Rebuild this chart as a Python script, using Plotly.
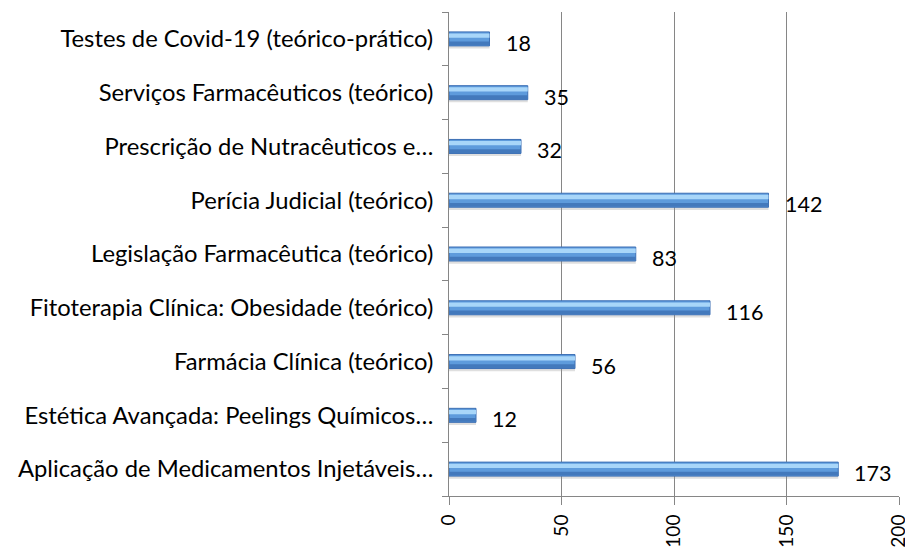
import plotly.graph_objects as go

categories = [
    "Aplicação de Medicamentos Injetáveis…",
    "Estética Avançada: Peelings Químicos…",
    "Farmácia Clínica (teórico)",
    "Fitoterapia Clínica: Obesidade (teórico)",
    "Legislação Farmacêutica (teórico)",
    "Perícia Judicial (teórico)",
    "Prescrição de Nutracêuticos e…",
    "Serviços Farmacêuticos (teórico)",
    "Testes de Covid-19 (teórico-prático)",
]
values = [173, 12, 56, 116, 83, 142, 32, 35, 18]
x_ticks = [0, 50, 100, 150, 200]

FONT = "Lato"

fig = go.Figure()
# soft shadow below the bar
fig.add_trace(go.Bar(y=categories, x=values, orientation="h", width=0.10, offset=-0.18,
                     marker=dict(color="rgba(150,150,150,0.30)", line=dict(width=0)),
                     hoverinfo="skip", showlegend=False))
# main cylinder body
fig.add_trace(go.Bar(y=categories, x=values, orientation="h", width=0.26, offset=-0.13,
                     marker=dict(color="#5E9BDC", line=dict(color="#3C6FB4", width=1)),
                     showlegend=False))
# darker lower band
fig.add_trace(go.Bar(y=categories, x=values, orientation="h", width=0.07, offset=-0.12,
                     marker=dict(color="#4379BC", line=dict(width=0)),
                     hoverinfo="skip", showlegend=False))
# highlight band
fig.add_trace(go.Bar(y=categories, x=values, orientation="h", width=0.08, offset=0.02,
                     marker=dict(color="#A8D6F9", line=dict(width=0)),
                     hoverinfo="skip", showlegend=False))

for c, v in zip(categories, values):
    fig.add_annotation(x=v, y=c, text=str(v), showarrow=False, xanchor="left",
                       xshift=14, yshift=-4, font=dict(family=FONT, size=21.5, color="#000000"))

fig.update_layout(
    width=905, height=539,
    margin=dict(l=441, r=14, t=4, b=51),
    paper_bgcolor="white", plot_bgcolor="white",
    barmode="overlay",
    font=dict(family=FONT, size=24, color="#000000"),
    showlegend=False,
)
fig.update_xaxes(range=[0, 200], tickvals=x_ticks, tickangle=-90,
                 showgrid=True, gridcolor="#868686", gridwidth=1,
                 showline=True, linecolor="#868686", linewidth=1,
                 ticks="outside", ticklen=8, tickcolor="#868686",
                 ticklabelstandoff=2,
                 tickfont=dict(family=FONT, size=19), zeroline=False,
                 automargin=False, fixedrange=True)
fig.update_yaxes(type="category", categoryorder="array", categoryarray=categories,
                 showline=True, linecolor="#868686", linewidth=1,
                 ticks="outside", ticklen=6, tickcolor="#868686", tickson="boundaries",
                 ticklabelstandoff=10,
                 tickfont=dict(family=FONT, size=23.8), showgrid=False,
                 automargin=False, fixedrange=True)

fig.write_html("out.html")
